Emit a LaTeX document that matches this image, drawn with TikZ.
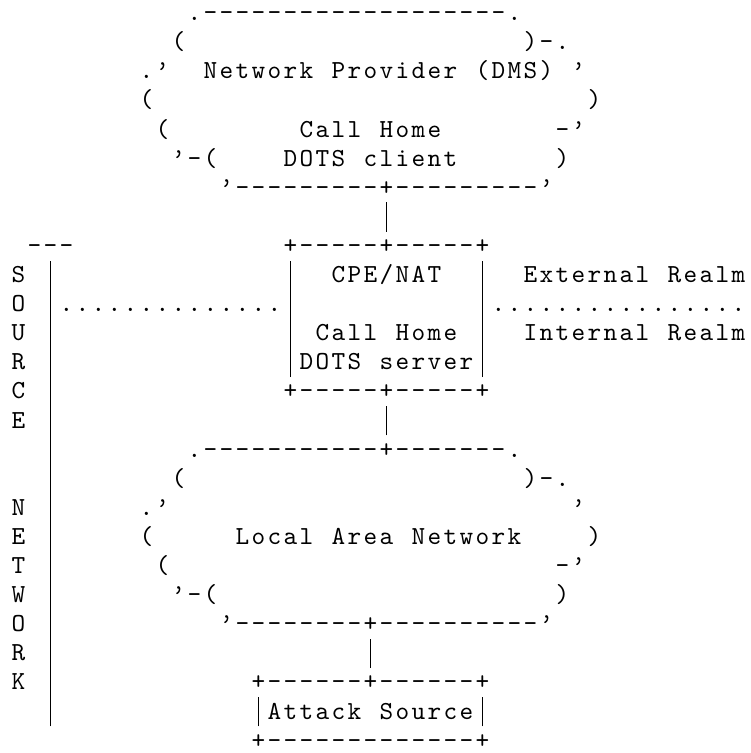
\documentclass[tikz,border=0pt]{standalone}
\usepackage{fontspec}
\newfontfamily\asciifont{lmmono10-regular.otf}
\makeatletter
\newlength\asciicw
\setlength\asciicw{12pt}
\def\asciiend{\asciiend}
\def\asciirow#1{\ascii@scan#1\asciiend}
\def\ascii@scan{\futurelet\ascii@next\ascii@test}
\def\ascii@test{%
  \ifx\ascii@next\asciiend \let\ascii@do\ascii@stop
  \else\ifx\ascii@next\@sptoken \let\ascii@do\ascii@space
  \else \let\ascii@do\ascii@char \fi\fi
  \ascii@do}
\def\ascii@stop#1{}
\expandafter\def\expandafter\ascii@space\space{\hbox to\asciicw{\hss}\ascii@scan}
\def\ascii@char#1{\hbox to\asciicw{\hss\ascii@glyph{#1}\hss}\ascii@scan}
\def\ascii@glyph#1{\ifx|#1\vrule width 0.85pt height 16.4pt depth 5.5pt\relax\else#1\fi}
\makeatother
\tikzset{
  asc/.style={anchor=base west, inner sep=0pt, outer sep=0pt,
    font=\asciifont\fontsize{19.5pt}{22pt}\selectfont, text=black}
}
% row, column, name, text
\newcommand\arow[4]{\node[asc] (#3) at ({10.5+16*#2},{282.5+29.1*(#1-10)}) {\asciirow{#4}};}
\begin{document}
\begin{tikzpicture}[x=0.75pt,y=-0.75pt]
\fill[white] (0,0) rectangle (750,753);
\useasboundingbox (0,0) rectangle (750,753);
% Network Provider cloud
\arow{1}{11}{r1}{.-------------------.}
\arow{2}{10}{r2a}{(}
\arow{2}{32}{r2b}{)-.}
\arow{3}{8}{r3a}{.’}
\arow{3}{12}{r3b}{Network Provider (DMS)}
\arow{3}{35}{r3c}{’}
\arow{4}{8}{r4a}{(}
\arow{4}{36}{r4b}{)}
\arow{5}{9}{r5a}{(}
\arow{5}{18}{r5b}{Call Home}
\arow{5}{34}{r5c}{-’}
\arow{6}{10}{r6a}{’-(}
\arow{6}{17}{r6b}{DOTS client}
\arow{6}{34}{r6c}{)}
\arow{7}{13}{r7}{’---------+---------’}
\arow{8}{23}{r8}{|}
% CPE/NAT box and source network
\arow{9}{1}{r9a}{---}
\arow{9}{17}{r9b}{+-----+-----+}
\arow{10}{0}{r10a}{S}
\arow{10}{2}{r10b}{|}
\arow{10}{17}{r10c}{|}
\arow{10}{20}{r10d}{CPE/NAT}
\arow{10}{29}{r10e}{|}
\arow{10}{32}{r10f}{External Realm}
\arow{11}{0}{r11a}{O}
\arow{11}{2}{r11b}{|..............|}
\arow{11}{29}{r11c}{|................}
\arow{12}{0}{r12a}{U}
\arow{12}{2}{r12b}{|}
\arow{12}{17}{r12c}{|}
\arow{12}{19}{r12d}{Call Home}
\arow{12}{29}{r12e}{|}
\arow{12}{32}{r12f}{Internal Realm}
\arow{13}{0}{r13a}{R}
\arow{13}{2}{r13b}{|}
\arow{13}{17}{r13c}{|DOTS server|}
\arow{14}{0}{r14a}{C}
\arow{14}{2}{r14b}{|}
\arow{14}{17}{r14c}{+-----+-----+}
\arow{15}{0}{r15a}{E}
\arow{15}{2}{r15b}{|}
\arow{15}{23}{r15c}{|}
% Local Area Network cloud
\arow{16}{2}{r16a}{|}
\arow{16}{11}{r16b}{.-----------+-------.}
\arow{17}{2}{r17a}{|}
\arow{17}{10}{r17b}{(}
\arow{17}{32}{r17c}{)-.}
\arow{18}{0}{r18a}{N}
\arow{18}{2}{r18b}{|}
\arow{18}{8}{r18c}{.’}
\arow{18}{35}{r18d}{’}
\arow{19}{0}{r19a}{E}
\arow{19}{2}{r19b}{|}
\arow{19}{8}{r19c}{(}
\arow{19}{14}{r19d}{Local Area Network}
\arow{19}{36}{r19e}{)}
\arow{20}{0}{r20a}{T}
\arow{20}{2}{r20b}{|}
\arow{20}{9}{r20c}{(}
\arow{20}{34}{r20d}{-’}
\arow{21}{0}{r21a}{W}
\arow{21}{2}{r21b}{|}
\arow{21}{10}{r21c}{’-(}
\arow{21}{34}{r21d}{)}
\arow{22}{0}{r22a}{O}
\arow{22}{2}{r22b}{|}
\arow{22}{13}{r22c}{’--------+----------’}
\arow{23}{0}{r23a}{R}
\arow{23}{2}{r23b}{|}
\arow{23}{22}{r23c}{|}
% Attack Source box
\arow{24}{0}{r24a}{K}
\arow{24}{2}{r24b}{|}
\arow{24}{15}{r24c}{+------+------+}
\arow{25}{2}{r25a}{|}
\arow{25}{15}{r25b}{|Attack Source|}
\arow{26}{15}{r26}{+-------------+}
\end{tikzpicture}
\end{document}
